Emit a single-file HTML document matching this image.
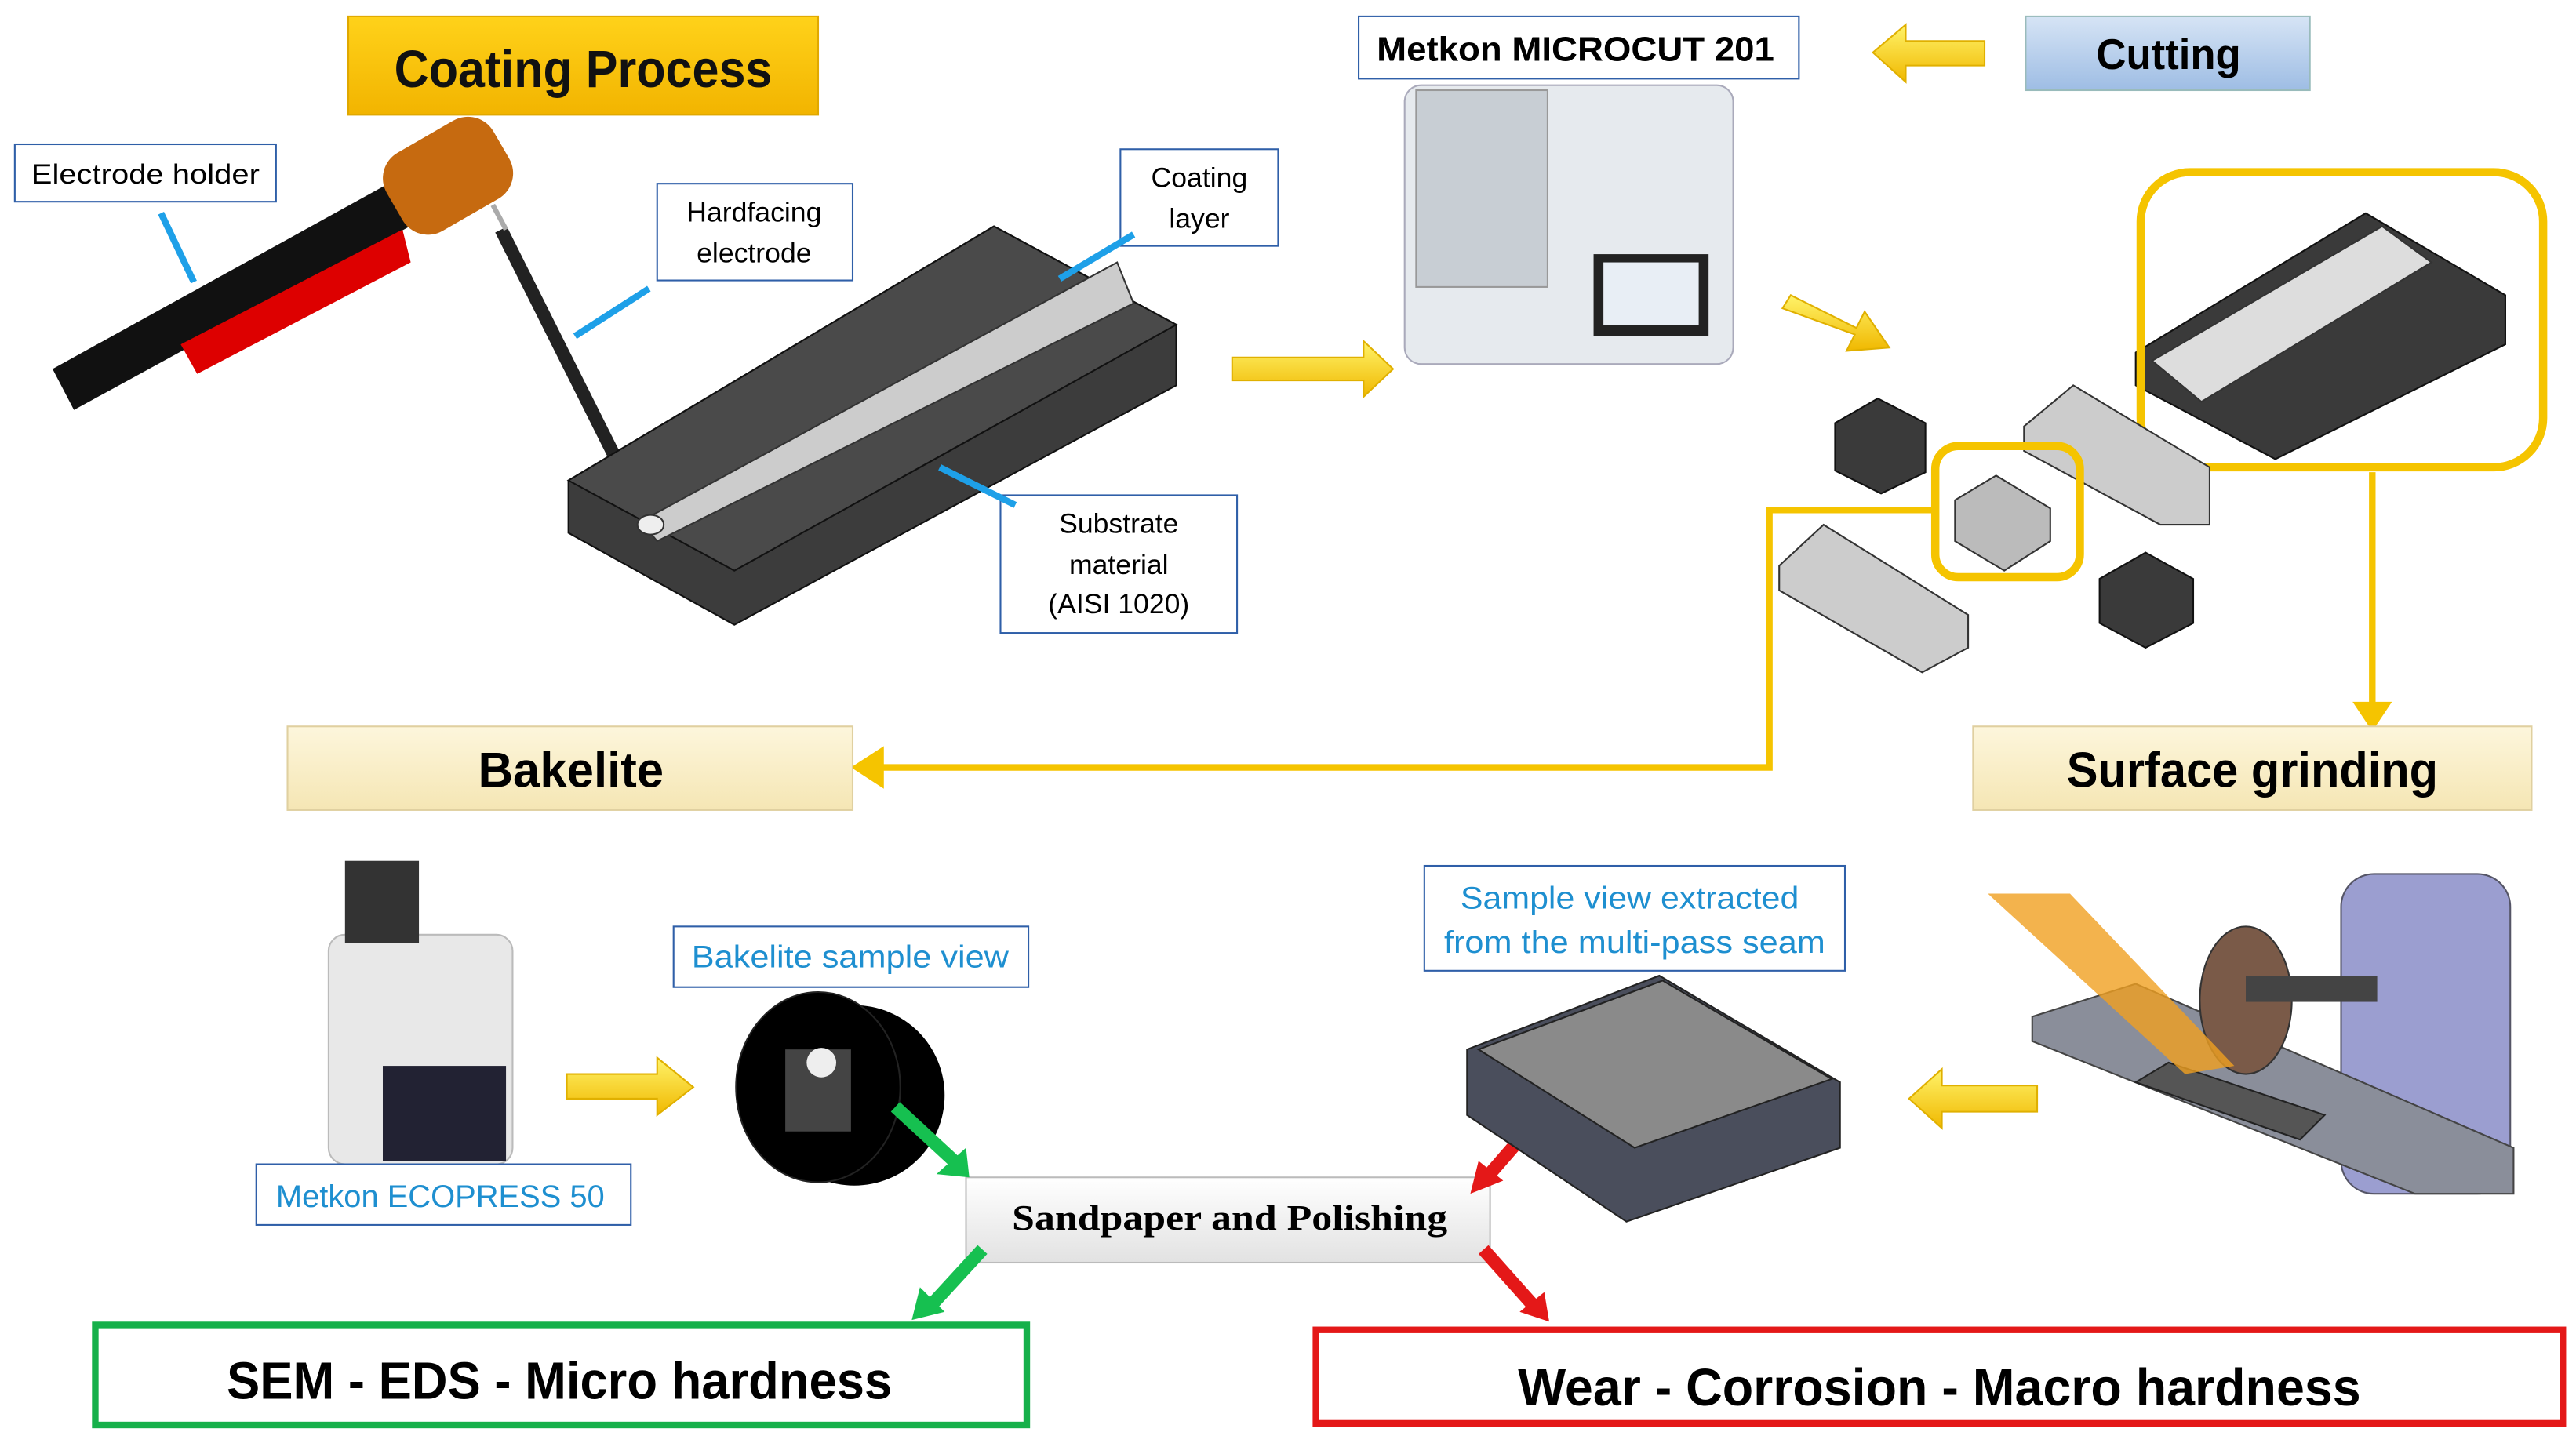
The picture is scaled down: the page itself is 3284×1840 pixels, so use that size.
<!DOCTYPE html>
<html><head><meta charset="utf-8"><style>
html,body{margin:0;padding:0;background:#fff;}
svg{display:block;}
text{font-family:"Liberation Sans",sans-serif;}
</style></head><body>
<svg width="3284" height="1840" viewBox="0 0 1568 880" preserveAspectRatio="none" xmlns="http://www.w3.org/2000/svg">
<defs>
<linearGradient id="gold" x1="0" y1="0" x2="0" y2="1"><stop offset="0" stop-color="#ffd21a"/><stop offset="1" stop-color="#f2b400"/></linearGradient>
<linearGradient id="blue" x1="0" y1="0" x2="0" y2="1"><stop offset="0" stop-color="#d6e4f5"/><stop offset="1" stop-color="#9ebde4"/></linearGradient>
<linearGradient id="cream" x1="0" y1="0" x2="0" y2="1"><stop offset="0" stop-color="#fdf6dc"/><stop offset="1" stop-color="#f5e6b4"/></linearGradient>
<linearGradient id="silver" x1="0" y1="0" x2="0" y2="1"><stop offset="0" stop-color="#fff"/><stop offset="1" stop-color="#e2e2e2"/></linearGradient>
<linearGradient id="yarr" x1="0" y1="0" x2="0" y2="1"><stop offset="0" stop-color="#fff36a"/><stop offset="1" stop-color="#f0b800"/></linearGradient>
</defs>

<rect x="212" y="10" width="286" height="60" fill="url(#gold)" stroke="#e0a800"/>
<text x="240" y="53" font-size="32" font-weight="bold" textLength="230" lengthAdjust="spacingAndGlyphs" fill="#111">Coating Process</text>

<polygon points="32,225 240,110 255,135 45,250" fill="#111"/>
<polygon points="110,210 245,140 250,160 120,228" fill="#d00"/>
<rect x="235" y="80" width="75" height="55" rx="18" fill="#c66a10" transform="rotate(-30 272 107)"/>
<line x1="305" y1="140" x2="390" y2="310" stroke="#222" stroke-width="8"/>
<line x1="300" y1="125" x2="308" y2="140" stroke="#aaa" stroke-width="3"/>
<rect x="9" y="88" width="159" height="35" fill="#fff" stroke="#2f5fa8"/>
<text x="19" y="112" font-size="17" textLength="139" lengthAdjust="spacingAndGlyphs">Electrode holder</text>
<line x1="98" y1="130" x2="118" y2="172" stroke="#1ea0e8" stroke-width="4"/>
<rect x="400" y="112" width="119" height="59" fill="#fff" stroke="#2f5fa8"/>
<text x="459" y="135" font-size="17" text-anchor="middle">Hardfacing</text>
<text x="459" y="160" font-size="17" text-anchor="middle">electrode</text>
<line x1="350" y1="205" x2="395" y2="176" stroke="#1ea0e8" stroke-width="4"/>

<polygon points="346,293 605,138 716,198 716,235 447,381 346,325" fill="#3c3c3c" stroke="#111"/>
<polygon points="346,293 605,138 716,198 447,348" fill="#4a4a4a" stroke="#111"/>
<polygon points="390,318 680,160 690,185 400,330" fill="#ccc" stroke="#333"/>
<ellipse cx="396" cy="320" rx="8" ry="6" fill="#eee" stroke="#333"/>
<rect x="682" y="91" width="96" height="59" fill="#fff" stroke="#2f5fa8"/>
<text x="730" y="114" font-size="17" text-anchor="middle">Coating</text>
<text x="730" y="139" font-size="17" text-anchor="middle">layer</text>
<line x1="645" y1="170" x2="690" y2="143" stroke="#1ea0e8" stroke-width="4"/>
<rect x="609" y="302" width="144" height="84" fill="#fff" stroke="#2f5fa8"/>
<text x="681" y="325" font-size="17" text-anchor="middle">Substrate</text>
<text x="681" y="350" font-size="17" text-anchor="middle">material</text>
<text x="681" y="374" font-size="17" text-anchor="middle">(AISI 1020)</text>
<line x1="572" y1="285" x2="618" y2="308" stroke="#1ea0e8" stroke-width="4"/>

<polygon points="750,218 830,218 830,208 848,225 830,242 830,232 750,232" fill="url(#yarr)" stroke="#e0b000"/>

<rect x="827" y="10" width="268" height="38" fill="#fff" stroke="#2f5fa8"/>
<text x="838" y="37" font-size="21" font-weight="bold" textLength="242" lengthAdjust="spacingAndGlyphs">Metkon MICROCUT 201</text>
<rect x="855" y="52" width="200" height="170" rx="10" fill="#e6eaee" stroke="#aab"/>
<rect x="862" y="55" width="80" height="120" fill="#c8ced4" stroke="#999"/>
<rect x="970" y="155" width="70" height="50" fill="#222"/>
<rect x="976" y="160" width="58" height="38" fill="#e8eef5"/>
<polygon points="1140,32 1160,15 1160,25 1208,25 1208,40 1160,40 1160,50" fill="url(#yarr)" stroke="#e0b000"/>
<rect x="1233" y="10" width="173" height="45" fill="url(#blue)" stroke="#9bb"/>
<text x="1276" y="42" font-size="26" font-weight="bold" textLength="88" lengthAdjust="spacingAndGlyphs">Cutting</text>
<polygon points="1090,180 1130,200 1135,190 1150,212 1124,214 1129,204 1085,188" fill="url(#yarr)" stroke="#e0b000"/>

<polygon points="1300,215 1440,130 1525,180 1525,210 1385,280 1300,235" fill="#3a3a3a" stroke="#111"/>
<polygon points="1310,220 1450,138 1480,160 1340,245" fill="#ddd" stroke="#333"/>
<rect x="1303" y="105" width="245" height="180" rx="30" fill="none" stroke="#f5c400" stroke-width="5"/>
<polygon points="1232,260 1262,235 1345,285 1345,320 1315,320 1232,275" fill="#ccc" stroke="#333"/>
<polygon points="1117,258 1143,243 1172,258 1172,288 1145,301 1117,287" fill="#3a3a3a" stroke="#111"/>
<polygon points="1278,353 1306,337 1335,353 1335,380 1306,395 1278,380" fill="#3a3a3a" stroke="#111"/>
<polygon points="1083,345 1110,320 1198,375 1198,395 1170,410 1083,360" fill="#ccc" stroke="#333"/>
<polygon points="1190,305 1215,290 1248,310 1248,330 1220,348 1190,330" fill="#bbb" stroke="#333"/>
<rect x="1178" y="272" width="88" height="80" rx="14" fill="none" stroke="#f5c400" stroke-width="5"/>
<polyline points="1178,311 1077,311 1077,468 530,468" fill="none" stroke="#f5c400" stroke-width="4"/>
<polygon points="518,468 538,455 538,481" fill="#f5c400"/>
<line x1="1444" y1="288" x2="1444" y2="430" stroke="#f5c400" stroke-width="4"/>
<polygon points="1432,428 1456,428 1444,446" fill="#f5c400"/>

<rect x="175" y="443" width="344" height="51" fill="url(#cream)" stroke="#e0d0a0"/>
<text x="291" y="480" font-size="30" font-weight="bold" textLength="113" lengthAdjust="spacingAndGlyphs">Bakelite</text>
<rect x="1201" y="443" width="340" height="51" fill="url(#cream)" stroke="#e0d0a0"/>
<text x="1258" y="480" font-size="30" font-weight="bold" textLength="226" lengthAdjust="spacingAndGlyphs">Surface grinding</text>

<rect x="200" y="570" width="112" height="140" rx="10" fill="#e8e8e8" stroke="#bbb"/>
<rect x="233" y="650" width="75" height="58" fill="#223"/>
<rect x="210" y="525" width="45" height="50" fill="#333"/>
<rect x="156" y="710" width="228" height="37" fill="#fff" stroke="#2f5fa8"/>
<text x="168" y="736" font-size="19" fill="#1e8fd0" textLength="200" lengthAdjust="spacingAndGlyphs">Metkon ECOPRESS 50</text>
<polygon points="345,655 400,655 400,645 422,663 400,680 400,670 345,670" fill="url(#yarr)" stroke="#e0b000"/>
<rect x="410" y="565" width="216" height="37" fill="#fff" stroke="#2f5fa8"/>
<text x="421" y="590" font-size="19" fill="#1e8fd0" textLength="193" lengthAdjust="spacingAndGlyphs">Bakelite sample view</text>
<ellipse cx="520" cy="668" rx="55" ry="55" fill="#000"/>
<ellipse cx="498" cy="663" rx="50" ry="58" fill="#000" stroke="#222"/>
<rect x="478" y="640" width="40" height="50" fill="#444"/>
<circle cx="500" cy="648" r="9" fill="#eee"/>

<rect x="588" y="718" width="319" height="52" fill="url(#silver)" stroke="#bbb"/>
<text x="616" y="750" font-size="22" font-weight="bold" textLength="265" lengthAdjust="spacingAndGlyphs" style="font-family:'Liberation Serif',serif">Sandpaper and Polishing</text>
<line x1="545" y1="675" x2="585" y2="712" stroke="#16c050" stroke-width="8"/>
<polygon points="590,718 570,716 588,700" fill="#16c050"/>
<line x1="598" y1="762" x2="565" y2="798" stroke="#16c050" stroke-width="8"/>
<polygon points="555,805 560,785 575,800" fill="#16c050"/>
<line x1="938" y1="680" x2="905" y2="718" stroke="#e41818" stroke-width="8"/>
<polygon points="895,728 900,708 915,720" fill="#e41818"/>
<line x1="903" y1="762" x2="935" y2="798" stroke="#e41818" stroke-width="8"/>
<polygon points="943,806 925,800 940,788" fill="#e41818"/>

<rect x="867" y="528" width="256" height="64" fill="#fff" stroke="#2f5fa8"/>
<text x="889" y="554" font-size="19" fill="#1e8fd0" textLength="206" lengthAdjust="spacingAndGlyphs">Sample view extracted</text>
<text x="879" y="581" font-size="19" fill="#1e8fd0" textLength="232" lengthAdjust="spacingAndGlyphs">from the multi-pass seam</text>
<polygon points="893,680 893,640 1010,595 1120,660 1120,700 990,745" fill="#4a4e5c" stroke="#222"/>
<polygon points="900,640 1012,598 1115,658 995,700" fill="#8a8a8a" stroke="#222"/>
<polygon points="1162,670 1182,652 1182,662 1240,662 1240,678 1182,678 1182,688" fill="url(#yarr)" stroke="#e0b000"/>

<rect x="1425" y="533" width="103" height="195" rx="20" fill="#9b9ed0" stroke="#556"/>
<polygon points="1237,620 1300,600 1530,700 1530,728 1470,728 1237,635" fill="#8a8e9a" stroke="#444"/>
<ellipse cx="1367" cy="610" rx="28" ry="45" fill="#7a5a48" stroke="#333"/>
<rect x="1367" y="595" width="80" height="16" fill="#444"/>
<polygon points="1300,660 1320,648 1415,680 1400,695" fill="#555" stroke="#222"/>
<polygon points="1210,545 1260,545 1360,650 1330,655" fill="#f0a020" opacity="0.8"/>

<rect x="58" y="808" width="567" height="61" fill="#fff" stroke="#16b04a" stroke-width="4"/>
<text x="138" y="853" font-size="32" font-weight="bold" textLength="405" lengthAdjust="spacingAndGlyphs">SEM - EDS - Micro hardness</text>
<rect x="801" y="811" width="759" height="57" fill="#fff" stroke="#e41818" stroke-width="4"/>
<text x="924" y="857" font-size="32" font-weight="bold" textLength="513" lengthAdjust="spacingAndGlyphs">Wear - Corrosion - Macro hardness</text>
</svg>
</body></html>
